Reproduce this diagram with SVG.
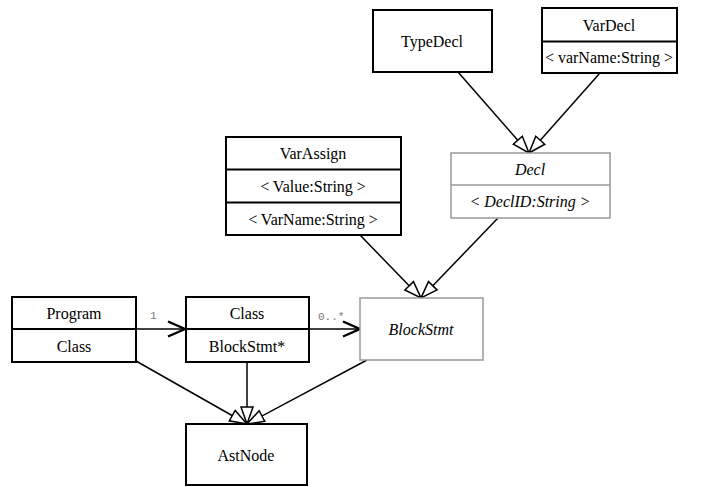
<svg xmlns="http://www.w3.org/2000/svg" width="703" height="487" viewBox="0 0 703 487">
<style>
.box{fill:#fff;stroke:#000;stroke-width:2}
.abox{fill:#fff;stroke:#999;stroke-width:1.5}
.t{font-family:"Liberation Serif",serif;font-size:16px;fill:#000;text-anchor:middle;dominant-baseline:central}
.i{font-style:italic}
.c{stroke:#000;stroke-width:1.5;fill:none}
.m{font-family:"Liberation Mono",monospace;font-size:11px;fill:#777;dominant-baseline:central}
</style>
<defs>
<marker id="tri" markerUnits="userSpaceOnUse" markerWidth="22" markerHeight="20" refX="18" refY="10" orient="auto">
<path d="M1,4 L18,10 L1,16 Z" fill="#fff" stroke="#000" stroke-width="1.5"/>
</marker>
<marker id="open" markerUnits="userSpaceOnUse" markerWidth="22" markerHeight="20" refX="18" refY="10" orient="auto">
<path d="M1,2.5 L18,10 L1,17.5" fill="none" stroke="#000" stroke-width="2.4"/>
</marker>
</defs>
<g id="connectors">
<line class="c" x1="458" y1="72" x2="529" y2="153" marker-end="url(#tri)"/>
<line class="c" x1="600" y1="73" x2="529" y2="153" marker-end="url(#tri)"/>
<line class="c" x1="360" y1="235" x2="421" y2="298" marker-end="url(#tri)"/>
<line class="c" x1="498" y1="218" x2="421" y2="298" marker-end="url(#tri)"/>
<line class="c" x1="136" y1="361" x2="247" y2="424" marker-end="url(#tri)"/>
<line class="c" x1="247" y1="362" x2="247" y2="424" marker-end="url(#tri)"/>
<line class="c" x1="367" y1="360" x2="247" y2="424" marker-end="url(#tri)"/>
<line class="c" x1="136" y1="329" x2="185" y2="329" marker-end="url(#open)"/>
<line class="c" x1="309" y1="329" x2="360" y2="329" marker-end="url(#open)"/>
<text class="m" x="150" y="316">1</text>
<text class="m" x="318" y="317">0..*</text>
</g>
<g id="TypeDecl">
<rect class="box" x="373" y="10" width="119" height="62"/>
<text class="t" x="432" y="41">TypeDecl</text>
</g>
<g id="VarDecl">
<rect class="box" x="542" y="8" width="135" height="65"/>
<line x1="542" y1="41.5" x2="677" y2="41.5" stroke="#000" stroke-width="2"/>
<text class="t" x="609" y="25">VarDecl</text>
<text class="t" x="609" y="57">&lt; varName:String &gt;</text>
</g>
<g id="Decl">
<rect class="abox" x="451" y="153" width="159" height="65"/>
<line x1="451" y1="185" x2="610" y2="185" stroke="#999" stroke-width="1.5"/>
<text class="t i" x="530" y="169">Decl</text>
<text class="t i" x="530" y="201">&lt; DeclID:String &gt;</text>
</g>
<g id="VarAssign">
<rect class="box" x="226" y="137" width="175" height="98"/>
<line x1="226" y1="169.5" x2="401" y2="169.5" stroke="#000" stroke-width="2"/>
<line x1="226" y1="202.5" x2="401" y2="202.5" stroke="#000" stroke-width="2"/>
<text class="t" x="313" y="153">VarAssign</text>
<text class="t" x="313" y="186">&lt; Value:String &gt;</text>
<text class="t" x="313" y="219">&lt; VarName:String &gt;</text>
</g>
<g id="BlockStmt">
<rect class="abox" x="360" y="298" width="123" height="62"/>
<text class="t i" x="421" y="329">BlockStmt</text>
</g>
<g id="Program">
<rect class="box" x="12" y="297" width="124" height="65"/>
<line x1="12" y1="329" x2="136" y2="329" stroke="#000" stroke-width="2"/>
<text class="t" x="74" y="313">Program</text>
<text class="t" x="74" y="346">Class</text>
</g>
<g id="Class">
<rect class="box" x="186" y="297" width="123" height="65"/>
<line x1="186" y1="329" x2="309" y2="329" stroke="#000" stroke-width="2"/>
<text class="t" x="247" y="313">Class</text>
<text class="t" x="247" y="346">BlockStmt*</text>
</g>
<g id="AstNode">
<rect class="box" x="186" y="424" width="121" height="61"/>
<text class="t" x="246" y="455">AstNode</text>
</g>
</svg>
